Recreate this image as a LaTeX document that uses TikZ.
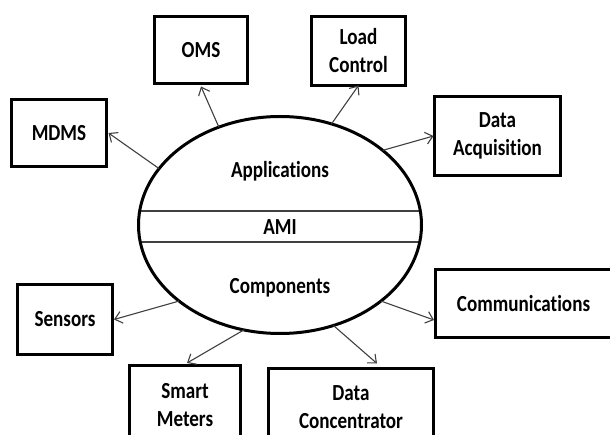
\documentclass[tikz,border=0pt]{standalone}
\usepackage{fontspec}
\setmainfont{Carlito}
% narrow, tall setting of the label face, without the "ti" ligature
\newfontfamily\lblfont{Carlito}[FakeStretch=0.83, Ligatures=NoCommon]
\usetikzlibrary{shapes.geometric,arrows.meta}
\begin{document}
\begin{tikzpicture}[x=1pt,y=-1pt,
  lbl/.style={font=\lblfont\fontsize{23}{28}\selectfont\bfseries, align=center, inner sep=0pt},
  box/.style={draw, line width=3pt, inner sep=0pt, outer sep=0pt, lbl},
  link/.style={draw=black!75, line width=1.1pt,
    -{Straight Barb[length=7pt,width=12pt,line width=1.1pt]}},
  band/.style={draw=black!75, line width=1.6pt},
]
\clip (0,0) rectangle (610,435);
\fill[white] (0,0) rectangle (610,435);

% central AMI ellipse with its two layers
\begin{scope}
  \clip (280,225) ellipse [x radius=141.5pt, y radius=108.5pt];
  \draw[band] (130,211) -- (430,211);
  \draw[band] (130,242) -- (430,242);
\end{scope}
\node[ellipse, draw, line width=3pt, minimum width=283pt, minimum height=217pt,
      inner sep=0pt, outer sep=0pt] (ami) at (280,225) {};
\node[lbl] (app)  at (280,171) {Applications};
\node[lbl] (core) at (280,227) {AMI};
\node[lbl] (comp) at (280,288) {Components};

% application boxes
\node[box, minimum width=93pt,  minimum height=67pt] (oms)  at (201,50)    {OMS};
\node[box, minimum width=94pt,  minimum height=69pt] (load) at (358.5,51)  {Load\\Control};
\node[box, minimum width=95pt,  minimum height=67pt] (mdms) at (59,133)    {MDMS};
\node[box, minimum width=126pt, minimum height=79pt] (acq)  at (497.5,136) {Data\\Acquisition};

% component boxes
\node[box, minimum width=177pt, minimum height=68pt] (comm)  at (523.5,303.5) {Communications};
\node[box, minimum width=95pt,  minimum height=70pt] (sens)  at (65,319.5)    {Sensors};
\node[box, minimum width=111pt, minimum height=80pt] (smart) at (185,405)     {Smart\\Meters};
\node[box, minimum width=165pt, minimum height=77pt] (dc)    at (351,407)     {Data\\Concentrator};

% connectors
\draw[link] (ami.122.7) -- ([yshift=-3pt]oms.south);
\draw[link] (ami.155.8) -- ([xshift=2pt]mdms.east);
\draw[link] (ami.63)    -- (load.south);
\draw[link] (ami.36.8)  -- ([xshift=-1pt]acq.west);
\draw[link] (ami.-37.1) -- ([yshift=-16.5pt,xshift=-1pt]comm.west);
\draw[link] (ami.-62.4) -- ([xshift=26pt,yshift=5pt]dc.north);
\draw[link] (ami.-109.2)-- ([xshift=2pt,yshift=2pt]smart.north);
\draw[link] (ami.217.1) -- ([xshift=1.5pt]sens.east);
\end{tikzpicture}
\end{document}
